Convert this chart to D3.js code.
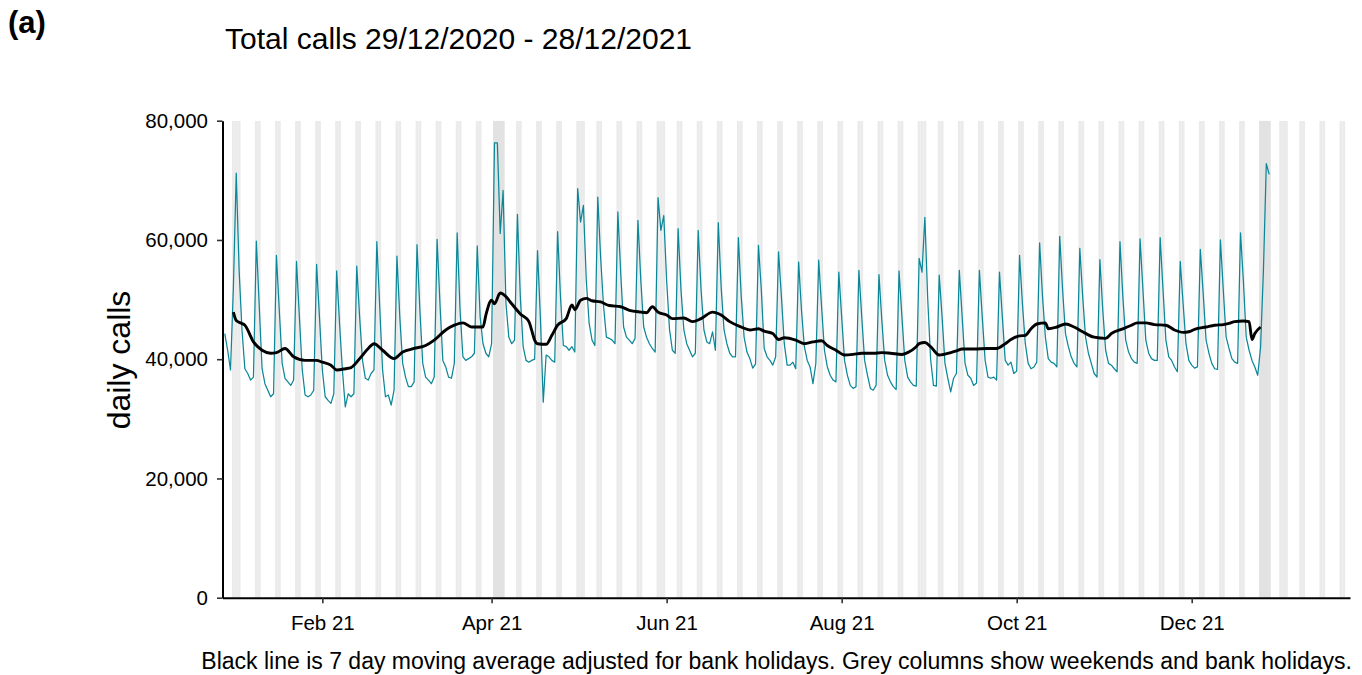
<!DOCTYPE html>
<html><head><meta charset="utf-8">
<script src="https://cdn.jsdelivr.net/npm/d3@7"></script>
<style>body{margin:0;background:#fff} svg text{font-family:"Liberation Sans",Arial,sans-serif;fill:#000}</style>
</head><body><svg id="c" width="1362" height="675"></svg>
<script>
// ---------------- data ----------------
const startDate = "2020-12-29";
const dailyCalls = [
 44300, 41500, 38200, 52000,
 71200, 54900, 44900, 38400, 37600, 36500, 37000,
 59800, 49100, 38400, 35900, 34800, 33700, 34200,
 57400, 48200, 39300, 36800, 36200, 35600, 36500,
 56400, 47100, 38200, 34000, 33700, 34000, 34800,
 55900, 47100, 38200, 33700, 33100, 32600, 34200,
 54800, 46000, 38200, 32000, 34200, 33700, 34200,
 55600, 47100, 39800, 36800, 36500, 37600, 38200,
 59700, 48800, 38200, 33700, 34000, 32300, 34800,
 57300, 47100, 39300, 37000, 35400, 35400, 36200,
 59200, 48200, 39300, 37000, 36500, 35900, 37000,
 60100, 49300, 39800, 38700, 37000, 36800, 39300,
 61200, 48200, 40400, 39800, 40100, 40400, 41000,
 59000, 47100, 42600, 41000, 40400, 42600, 76300,
 76300, 61100, 68300, 49300, 43700, 42600, 43200,
 64300, 50500, 42100, 39800, 39500, 39800, 40000,
 58200, 47000, 32800, 40700, 40400, 39800, 39500,
 61400, 50500, 42300, 42100, 41500, 42100, 41200,
 68600, 63000, 65800, 53200, 46000, 43200, 42300,
 67200, 57000, 49000, 43700, 43500, 43200, 42600,
 64700, 54400, 45400, 43700, 43200, 42600, 43500,
 63300, 53200, 45400, 43700, 42600, 41800, 41200,
 67100, 61600, 64100, 53200, 45000, 41500, 41000,
 61900, 51600, 44900, 42600, 41500, 40400, 41000,
 61600, 51600, 44900, 42900, 42600, 44600, 41500,
 62900, 52100, 44900, 42600, 41000, 40400, 40400,
 60400, 50500, 43700, 41200, 40100, 38500, 39200,
 59100, 51600, 41800, 40400, 39800, 39000, 40400,
 58000, 50500, 42600, 39000, 39000, 39500, 38400,
 56300, 48200, 42100, 39800, 38700, 35900, 39300,
 56600, 48800, 41500, 38700, 37300, 36500, 36200,
 54600, 47100, 39800, 37300, 35600, 35100, 35400,
 54900, 47100, 39800, 37300, 35100, 34800, 35600,
 54200, 46500, 39800, 37300, 36200, 35400, 34900,
 54800, 47100, 39800, 37000, 36200, 35600, 35500,
 56900, 54600, 63800, 50000, 40000, 35600, 35500,
 54100, 47100, 39300, 36800, 34500, 36800, 37600,
 54900, 47100, 39300, 37300, 36800, 35600, 36000,
 54900, 47100, 39800, 37000, 36800, 37000, 36500,
 54600, 47100, 39800, 39000, 39500, 37600, 38000,
 57400, 49300, 42600, 39300, 38400, 38700, 39500,
 59500, 50500, 43700, 40100, 39500, 39300, 38700,
 60600, 51600, 44300, 42100, 40400, 39300, 38700,
 58600, 50500, 43700, 41000, 39300, 37600, 37000,
 56700, 48200, 41500, 39300, 39000, 38400, 37900,
 59700, 50500, 43200, 41200, 40100, 39500, 39300,
 60200, 51600, 43200, 41000, 40100, 39800, 39800,
 60400, 51600, 43200, 40400, 39800, 38700, 37900,
 56400, 49300, 42600, 39800, 39000, 38500, 38700,
 58400, 51000, 43200, 41000, 39300, 38400, 38300,
 60000, 51600, 43700, 41800, 40100, 39500, 39300,
 61200, 53200, 43700, 41500, 39800, 38700, 37300,
 42000, 55000, 72800, 71000
];
// 7-day moving average (adjusted), read at selected days (day offset from startDate)
const maDay = [3,4,6,7,10,13,16,18,21,24,28,32,34,37,39,42,44,47,50,52,55,59,62,66,70,73,77,80,83,86,90,91,93,94,96,98,100,103,106,107,108,109,112,114,116,119,121,122,124,126,128,131,134,138,141,145,147,149,151,154,156,160,163,166,170,173,176,180,183,186,188,191,193,195,199,202,205,208,210,213,216,219,222,226,229,232,236,238,241,242,244,246,249,253,255,257,261,266,269,272,274,277,279,281,283,286,287,290,293,296,299,303,307,309,313,316,318,321,324,328,331,334,336,338,342,345,348,350,352,355,357,358,359,361];
const maValue = [47900,46500,46000,45700,42900,41500,41000,41100,41800,40400,39800,39800,39500,39000,38200,38400,38600,40100,41800,42600,41500,40100,41200,41800,42300,43200,44900,45700,46100,45400,45400,47400,49900,49300,51100,50500,49300,47600,46300,44800,43200,42600,42500,44000,45700,46800,49100,48300,49900,50200,49800,49600,49000,48800,48200,47900,47800,48800,47900,47400,46800,46900,46300,46800,47900,47400,46300,45400,44900,45100,44700,44300,43300,43600,43200,42600,42900,43100,42300,41500,40700,40800,41000,41000,41100,41000,40800,41100,42100,42600,42800,42100,40700,41100,41400,41700,41700,41800,41800,42600,43300,43900,44000,45100,45900,46100,45100,45400,45900,45400,44600,43700,43500,44300,45100,45700,46100,46100,45800,45700,44900,44500,44600,45000,45400,45700,45800,46000,46300,46400,46300,43300,44300,45400];
const bankHolidays = ["2020-12-28","2021-01-01","2021-04-02","2021-04-05","2021-05-03","2021-05-31","2021-08-30","2021-12-27","2021-12-28","2022-01-03"];
const holidayBlocks = [["2021-04-02","2021-04-05"],["2021-12-25","2021-12-28"]];
const shadeFrom = "2020-12-26", shadeTo = "2022-01-23";
const xTicks = ["2021-02-01","2021-04-01","2021-06-01","2021-08-01","2021-10-01","2021-12-01"];
const yTicks = [0, 20000, 40000, 60000, 80000];
const titleText = "Total calls 29/12/2020 - 28/12/2021";
const yLabel = "daily calls";
const caption = "Black line is 7 day moving average adjusted for bank holidays. Grey columns show weekends and bank holidays.";
const panelTag = "(a)";

// ---------------- chart ----------------
const P = d3.utcParse("%Y-%m-%d");
const svg = d3.select("#c");
const L = 222.5, R = 1350, T = 120.7, B = 597.7;
const x = d3.scaleUtc().domain([Date.UTC(2020,11,28,5), Date.UTC(2022,0,25,4)]).range([L, R]);
const y = d3.scaleLinear().domain([0, 80000]).range([B, T]);
const start = P(startDate);
const day = i => d3.utcDay.offset(start, i);
const x0 = d => x(d3.utcHour.offset(d,-12)), x1 = d => x(d3.utcHour.offset(d,12));

svg.append("defs").append("clipPath").attr("id","clip")
  .append("rect").attr("x",L).attr("y",T).attr("width",R-L).attr("height",B-T);

// grey columns: weekends + bank holidays
const bh = new Set(bankHolidays);
const shadeDays = d3.utcDay.range(P(shadeFrom), d3.utcDay.offset(P(shadeTo),1))
  .filter(d => d.getUTCDay()===0 || d.getUTCDay()===6 || bh.has(d3.utcFormat("%Y-%m-%d")(d)));
const gCols = svg.append("g").attr("clip-path","url(#clip)");
gCols.selectAll("rect.day").data(shadeDays).join("rect").attr("class","day")
  .attr("x", x0).attr("width", d => x1(d) - x0(d))
  .attr("y", T).attr("height", B-T)
  .attr("fill", "#ebebeb");
gCols.selectAll("rect.block").data(holidayBlocks).join("rect").attr("class","block")
  .attr("x", d => x0(P(d[0]))).attr("width", d => x1(P(d[1])) - x0(P(d[0])))
  .attr("y", T).attr("height", B-T)
  .attr("fill", "#e2e2e2");

// daily calls line
const series = dailyCalls.map((v,i) => ({d: day(i), v}));
svg.append("path").datum(series)
  .attr("fill","none").attr("stroke","#0c8798").attr("stroke-width",1.25)
  .attr("stroke-linejoin","round")
  .attr("d", d3.line().x(p => x(p.d)).y(p => y(p.v)));

// moving average
const ma = maDay.map((k,i) => ({d: day(k), v: maValue[i]}));
svg.append("path").datum(ma)
  .attr("fill","none").attr("stroke","#000").attr("stroke-width",2.9)
  .attr("stroke-linejoin","round")
  .attr("d", d3.line().curve(d3.curveMonotoneX).x(p => x(p.d)).y(p => y(p.v)));

// axes
const xAxis = d3.axisBottom(x).tickValues(xTicks.map(P)).tickFormat(d3.utcFormat("%b %y")).tickSize(5.5).tickSizeOuter(0);
const gx = svg.append("g").attr("transform",`translate(0,${B})`).call(xAxis);
const yAxis = d3.axisLeft(y).tickValues(yTicks).tickFormat(d3.format(",")).tickSize(5.5).tickSizeOuter(0);
const gy = svg.append("g").attr("transform",`translate(${L},0)`).call(yAxis);
[gx, gy].forEach(g => {
  g.select(".domain").attr("stroke","#000").attr("stroke-width",2);
  g.selectAll(".tick line").attr("stroke","#333").attr("stroke-width",1.6);
  g.selectAll(".tick text").attr("font-size",20.5).attr("fill","#000")
    .style("font-family","'Liberation Sans',Arial,sans-serif");
});
gx.selectAll(".tick text").attr("y",17.7).attr("dy","0.71em");
gy.selectAll(".tick text").attr("x",-14.5);

svg.append("text").attr("x",8).attr("y",33).attr("font-size",31).attr("font-weight","bold").text(panelTag);
svg.append("text").attr("x",225).attr("y",49).attr("font-size",30).text(titleText);
svg.append("text").attr("transform","translate(130,360) rotate(-90)").attr("text-anchor","middle").attr("font-size",32).text(yLabel);
svg.append("text").attr("x",1352).attr("y",669).attr("text-anchor","end").attr("font-size",23).text(caption);
</script></body></html>
